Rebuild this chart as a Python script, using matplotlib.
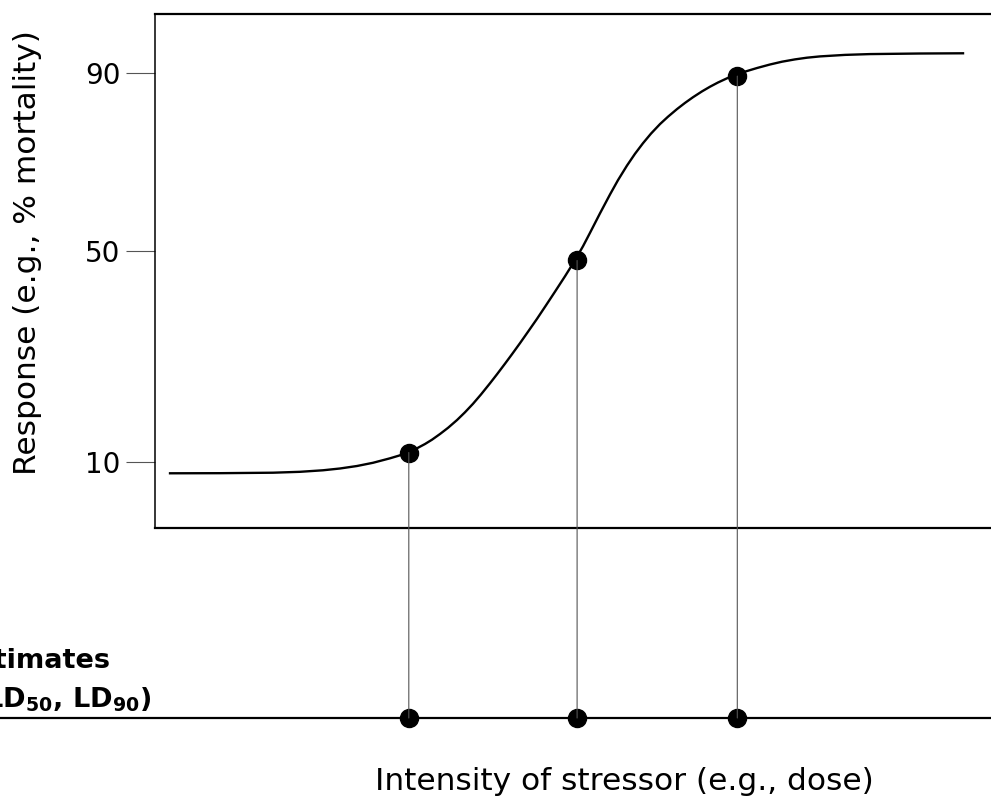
import matplotlib.pyplot as plt
from matplotlib.patches import ConnectionPatch
from matplotlib.ticker import FixedLocator
import numpy as np

plt.rcParams['font.family'] = ['DejaVu Sans']
plt.rcParams['mathtext.fontset'] = 'dejavusans'

# dose-response curve (dose in arbitrary units, response in %)
dose = [1.67, 7.22, 13.11, 16.11, 18.67, 20.56, 22.44, 24.22, 26.11, 27.11,
        28.11, 29.0, 30.0, 30.78, 31.67, 32.56, 33.56, 34.44, 35.33, 36.22,
        37.22, 38.0, 38.89, 39.67, 40.56, 41.44, 42.44, 43.44, 44.44, 45.56,
        46.67, 47.56, 48.33, 49.44, 50.56, 51.44, 52.44, 53.33, 54.22, 55.11,
        56.11, 57.0, 58.0, 58.89, 59.78, 60.78, 61.67, 62.56, 63.56, 64.56,
        65.56, 66.89, 68.33, 69.67, 71.11, 72.44, 73.89, 76.67, 79.44, 85.0,
        89.78]
response = [7.86, 7.88, 7.97, 8.14, 8.43, 8.77, 9.24, 9.85, 10.70, 11.21,
            11.80, 12.50, 13.41, 14.23, 15.31, 16.48, 17.96, 19.42, 21.03,
            22.80, 24.92, 26.63, 28.64, 30.44, 32.54, 34.68, 37.13, 39.69,
            42.28, 45.22, 48.26, 51.08, 54.07, 58.45, 62.72, 65.91, 69.19,
            71.84, 74.22, 76.38, 78.52, 80.18, 81.89, 83.28, 84.56, 85.87,
            86.92, 87.87, 88.81, 89.62, 90.31, 91.12, 91.91, 92.54, 93.06,
            93.44, 93.73, 94.07, 94.25, 94.38, 94.43]

# LD10, LD50, LD90 estimates
ld_dose = [28.2, 46.9, 64.7]
ld_resp = [11.8, 48.2, 89.3]

yticks = [10, 50, 90]

# the response axis is not evenly spaced in the original
knot_resp = [-200, 10, 50, 90, 300]
knot_pos = [-1041.75, 66, 277, 455, 1389.5]


def forward(v):
    return np.interp(v, knot_resp, knot_pos)


def inverse(p):
    return np.interp(p, knot_pos, knot_resp)


W, H = 991, 797
fig = plt.figure(figsize=(W / 100, H / 100), dpi=100)

# main box: left edge at 155 px, right edge runs off the page
ax = fig.add_axes([155 / W, (H - 528) / H, 900 / W, 514 / H])
ax.set_yscale('function', functions=(forward, inverse))
ax.set_xlim(0, 100)
ax.set_ylim(inverse(0), inverse(514))

ax.plot(dose, response, color='black', lw=1.7, solid_joinstyle='round')
ax.plot(ld_dose, ld_resp, 'o', color='black', ms=13, zorder=5)

ax.yaxis.set_major_locator(FixedLocator(yticks))
ax.yaxis.set_minor_locator(FixedLocator([]))
ax.set_yticklabels([str(t) for t in yticks])
ax.tick_params(axis='y', length=21, width=0.8, color='#555555', pad=4,
               labelsize=20)
ax.set_xticks([])

ax.spines['left'].set_linewidth(1.1)
ax.spines['top'].set_linewidth(1.6)
ax.spines['bottom'].set_linewidth(1.6)
ax.spines['right'].set_visible(False)

# lower strip with the point estimates
ax2 = fig.add_axes([0, (H - 730) / H, 1, 24 / H])
ax2.set_xlim(-155 / 9, (W - 155) / 9)
ax2.set_ylim(-1, 1)
ax2.axis('off')
ax2.axhline(0, color='black', lw=1.6)
ax2.plot(ld_dose, [0, 0, 0], 'o', color='black', ms=13, zorder=5,
         clip_on=False)

for xd, yr in zip(ld_dose, ld_resp):
    con = ConnectionPatch(xyA=(xd, 0), coordsA=ax2.transData,
                          xyB=(xd, yr), coordsB=ax.transData,
                          color='#555555', lw=0.8, zorder=1)
    fig.add_artist(con)

fig.text(28 / W, 1 - 253 / H, 'Response (e.g., % mortality)', rotation=90,
         ha='center', va='center', fontsize=22.5)
fig.text(624 / W, 1 - 790 / H, 'Intensity of stressor (e.g., dose)',
         ha='center', va='baseline', fontsize=22.5)

# label of the lower line, cut off by the left edge as in the original
fig.text(111 / W, 1 - 668 / H, 'Estimates', ha='right', va='baseline',
         fontsize=19.5, fontweight='bold')
fig.text(152 / W, 1 - 707 / H,
         r'(LD$_{\mathbf{10}}$, LD$_{\mathbf{50}}$, LD$_{\mathbf{90}}$)',
         ha='right', va='baseline', fontsize=19.5, fontweight='bold')

fig.savefig('out.png', dpi=100)
